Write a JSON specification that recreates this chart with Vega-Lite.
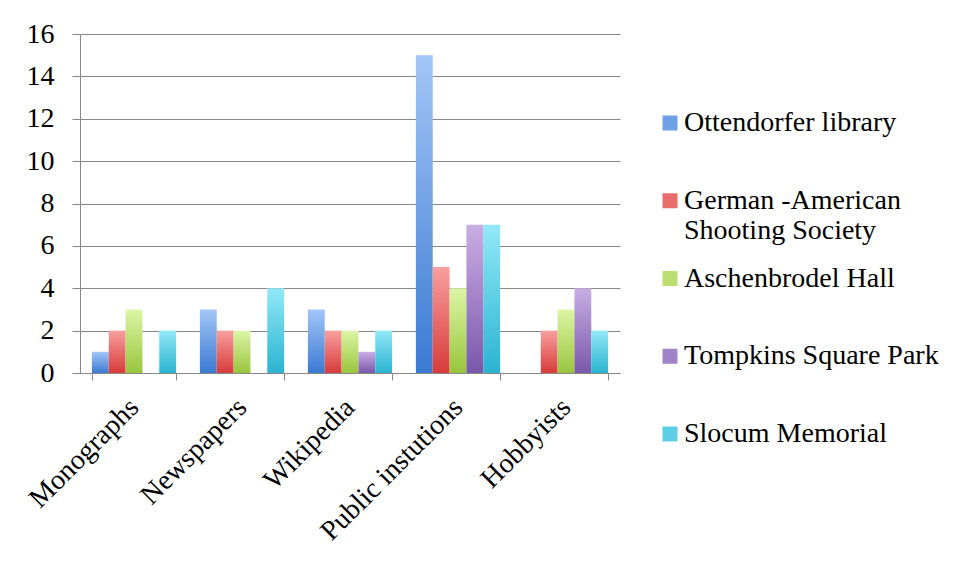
{
  "$schema": "https://vega.github.io/schema/vega-lite/v6.json",
  "width": 540,
  "height": 339,
  "autosize": {"type": "none"},
  "padding": {"left": 80, "top": 34, "right": 341, "bottom": 205},
  "background": "white",
  "config": {"view": {"stroke": null}, "font": "Liberation Serif"},
  "data": {
    "values": [
      {"source": "Monographs", "site": "Ottendorfer library", "count": 1},
      {"source": "Monographs", "site": "German -American Shooting Society", "count": 2},
      {"source": "Monographs", "site": "Aschenbrodel Hall", "count": 3},
      {"source": "Monographs", "site": "Tompkins Square Park", "count": 0},
      {"source": "Monographs", "site": "Slocum Memorial", "count": 2},
      {"source": "Newspapers", "site": "Ottendorfer library", "count": 3},
      {"source": "Newspapers", "site": "German -American Shooting Society", "count": 2},
      {"source": "Newspapers", "site": "Aschenbrodel Hall", "count": 2},
      {"source": "Newspapers", "site": "Tompkins Square Park", "count": 0},
      {"source": "Newspapers", "site": "Slocum Memorial", "count": 4},
      {"source": "Wikipedia", "site": "Ottendorfer library", "count": 3},
      {"source": "Wikipedia", "site": "German -American Shooting Society", "count": 2},
      {"source": "Wikipedia", "site": "Aschenbrodel Hall", "count": 2},
      {"source": "Wikipedia", "site": "Tompkins Square Park", "count": 1},
      {"source": "Wikipedia", "site": "Slocum Memorial", "count": 2},
      {"source": "Public instutions", "site": "Ottendorfer library", "count": 15},
      {"source": "Public instutions", "site": "German -American Shooting Society", "count": 5},
      {"source": "Public instutions", "site": "Aschenbrodel Hall", "count": 4},
      {"source": "Public instutions", "site": "Tompkins Square Park", "count": 7},
      {"source": "Public instutions", "site": "Slocum Memorial", "count": 7},
      {"source": "Hobbyists", "site": "Ottendorfer library", "count": 0},
      {"source": "Hobbyists", "site": "German -American Shooting Society", "count": 2},
      {"source": "Hobbyists", "site": "Aschenbrodel Hall", "count": 3},
      {"source": "Hobbyists", "site": "Tompkins Square Park", "count": 4},
      {"source": "Hobbyists", "site": "Slocum Memorial", "count": 2}
    ]
  },
  "encoding": {
    "x": {
      "field": "source",
      "type": "nominal",
      "sort": ["Monographs", "Newspapers", "Wikipedia", "Public instutions", "Hobbyists"],
      "scale": {"paddingInner": 0.22, "paddingOuter": 0.11},
      "axis": {
        "title": null,
        "domainColor": "#888888",
        "tickColor": "#888888",
        "tickBand": "extent",
        "tickSize": 7,
        "labelAngle": -45,
        "labelAlign": "right",
        "labelBaseline": "middle",
        "labelPadding": 23,
        "labelOffset": 0,
        "labelFontSize": 28,
        "labelColor": "#000000",
        "labelLimit": 400,
        "grid": false
      }
    },
    "xOffset": {
      "field": "site",
      "sort": ["Ottendorfer library", "German -American Shooting Society", "Aschenbrodel Hall", "Tompkins Square Park", "Slocum Memorial"]
    },
    "y": {
      "field": "count",
      "type": "quantitative",
      "scale": {"domain": [0, 16], "nice": false},
      "axis": {
        "title": null,
        "values": [0, 2, 4, 6, 8, 10, 12, 14, 16],
        "domainColor": "#888888",
        "tickColor": "#888888",
        "tickSize": 8,
        "gridColor": "#888888",
        "gridWidth": 1,
        "labelPadding": 18,
        "labelFontSize": 28,
        "labelColor": "#000000"
      }
    }
  },
  "layer": [
    {
      "mark": {"type": "bar"},
      "encoding": {
        "color": {
          "condition": [
            {"test": "datum.site == 'Ottendorfer library'", "value": {"gradient": "linear", "x1": 0, "y1": 0, "x2": 0, "y2": 1, "stops": [{"offset": 0, "color": "#a3c6f7"}, {"offset": 1, "color": "#3b7ad2"}]}},
            {"test": "datum.site == 'German -American Shooting Society'", "value": {"gradient": "linear", "x1": 0, "y1": 0, "x2": 0, "y2": 1, "stops": [{"offset": 0, "color": "#f7a09e"}, {"offset": 1, "color": "#d83a3a"}]}},
            {"test": "datum.site == 'Aschenbrodel Hall'", "value": {"gradient": "linear", "x1": 0, "y1": 0, "x2": 0, "y2": 1, "stops": [{"offset": 0, "color": "#dcf6a6"}, {"offset": 1, "color": "#99c53d"}]}},
            {"test": "datum.site == 'Tompkins Square Park'", "value": {"gradient": "linear", "x1": 0, "y1": 0, "x2": 0, "y2": 1, "stops": [{"offset": 0, "color": "#c9aee4"}, {"offset": 1, "color": "#7a58aa"}]}}
          ],
          "value": {"gradient": "linear", "x1": 0, "y1": 0, "x2": 0, "y2": 1, "stops": [{"offset": 0, "color": "#92e8f7"}, {"offset": 1, "color": "#2ab4d2"}]}
        }
      }
    },
    {
      "mark": {"type": "bar", "opacity": 0},
      "encoding": {
        "color": {
          "field": "site",
          "type": "nominal",
          "scale": {
            "domain": ["Ottendorfer library", "German -American Shooting Society", "Aschenbrodel Hall", "Tompkins Square Park", "Slocum Memorial"],
            "range": ["#6f9fe4", "#e86c6b", "#bbde72", "#a183c7", "#5ecee4"]
          },
          "legend": {
            "orient": "none",
            "legendX": 576,
            "legendY": 75,
            "title": null,
            "padding": 0,
            "symbolType": "square",
            "symbolSize": 225,
            "symbolStrokeWidth": 0,
            "symbolOpacity": 1,
            "labelFontSize": 28,
            "labelColor": "#000000",
            "labelOffset": 0,
            "labelLimit": 400,
            "labelBaseline": "top",
            "rowPadding": 19.75,
            "labelExpr": "datum.label == 'German -American Shooting Society' ? ['German -American', 'Shooting Society'] : [datum.label, '']",
            "encode": {
              "labels": {"update": {"dy": {"value": -14}, "lineHeight": {"value": 30}}},
              "symbols": {"update": {"opacity": {"value": 1}}}
            }
          }
        }
      }
    }
  ]
}
